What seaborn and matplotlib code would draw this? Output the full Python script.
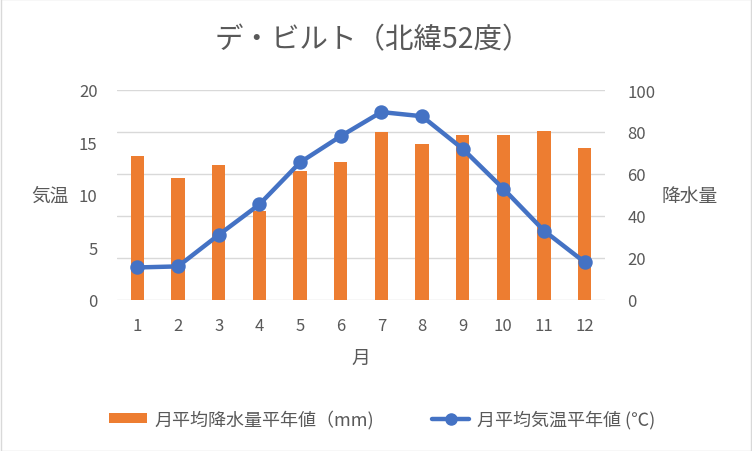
import matplotlib
matplotlib.use("Agg")
import matplotlib.pyplot as plt
import seaborn as sns
from matplotlib.patches import Patch
from matplotlib.lines import Line2D

sns.set_theme(style="white")
plt.rcParams['font.family'] = ['Noto Sans CJK JP', 'DejaVu Sans']

# data
months = ['1', '2', '3', '4', '5', '6', '7', '8', '9', '10', '11', '12']
precip = [68.8, 58.3, 64.5, 42.5, 61.6, 65.9, 79.8, 74.5, 78.8, 78.8, 80.3, 72.6]
temp = [3.1, 3.2, 6.2, 9.1, 13.1, 15.6, 17.9, 17.5, 14.4, 10.6, 6.6, 3.6]

orange = '#ED7D31'
blue = '#4472C4'
grey = '#595959'

fig = plt.figure(figsize=(7.52, 4.52), dpi=100)
ax = fig.add_axes([117 / 752, 1 - 301 / 452, 488 / 752, 210 / 452])
ax2 = ax.twinx()

# bars on the right (precipitation) axis, drawn underneath
sns.barplot(x=months, y=precip, ax=ax2, color=orange, saturation=1, width=0.32,
            linewidth=0)
ax2.set_ylim(0, 100)
ax2.set_yticks([0, 20, 40, 60, 80, 100])
ax2.grid(axis='y', color='#D9D9D9', linewidth=1)
ax2.set_axisbelow(True)

# temperature line on the left axis, on top
ax.set_zorder(ax2.get_zorder() + 1)
ax.patch.set_visible(False)
sns.pointplot(x=months, y=temp, ax=ax, color=blue, markers='o',
              markersize=8, linewidth=3.2)
ax.set_ylim(0, 20)
ax.set_yticks([0, 5, 10, 15, 20])
ax.set_xlim(-0.5, 11.5)
ax.grid(False)

for a in (ax, ax2):
    for s in a.spines.values():
        s.set_visible(False)
    a.tick_params(length=0, labelsize=12, labelcolor=grey)
ax.tick_params(axis='y', pad=14)
ax.tick_params(axis='x', pad=12)
ax2.tick_params(axis='y', pad=16)

ax.set_ylabel('気温', rotation=0, fontsize=13.5, color=grey, va='center', ha='center')
ax.yaxis.set_label_coords(-0.137, 0.5)
ax2.set_ylabel('降水量', rotation=0, fontsize=13.5, color=grey, va='center', ha='center')
ax2.yaxis.set_label_coords(1.174, 0.5)
ax.set_xlabel('月', fontsize=13.5, color=grey)
ax.xaxis.set_label_coords(0.5, -0.225)

fig.text(373 / 752, 1 - 40 / 452, 'デ・ビルト（北緯52度）', fontsize=20.5,
         color=grey, ha='center', va='center')

handles = [Patch(facecolor=orange, edgecolor='none'),
           Line2D([], [], color=blue, linewidth=3.2, marker='o', markersize=8)]
labels = ['月平均降水量平年値（mm)', '月平均気温平年値 (℃)']
fig.legend(handles, labels, loc='center', bbox_to_anchor=(382 / 752, 1 - 420 / 452),
           ncol=2, frameon=False, fontsize=13, labelcolor=grey,
           handlelength=2.1, handleheight=0.5, columnspacing=3.2, handletextpad=0.4)

fig.patches.append(plt.Rectangle((0.001, 0.001), 0.998, 0.998, transform=fig.transFigure,
                                 fill=False, edgecolor='#D9D9D9', linewidth=1))

fig.savefig('out.png', dpi=100, facecolor='white')
